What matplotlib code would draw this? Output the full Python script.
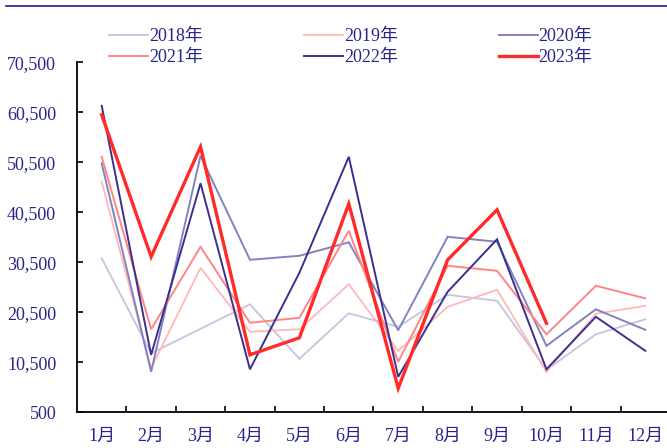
import numpy as np
import matplotlib.pyplot as plt
from matplotlib.lines import Line2D

plt.rcParams['font.family'] = ['Liberation Serif', 'Noto Sans CJK SC']

# Monthly values
months = ['1月', '2月', '3月', '4月', '5月', '6月', '7月', '8月', '9月', '10月', '11月', '12月']
y2018 = [31300, 12300, 17200, 22100, 11200, 20300, 17600, 24000, 22800, 9000, 16100, 19100]
y2019 = [46600, 9300, 29400, 16600, 17100, 26100, 12800, 21600, 25000, 8600, 20200, 21800]
y2020 = [50300, 8600, 51800, 31000, 31800, 34500, 16900, 35600, 34600, 13800, 21100, 17000]
y2021 = [51600, 17100, 33600, 18400, 19400, 36800, 10600, 29800, 28800, 16100, 25800, 23300]
y2022 = [61800, 12000, 46300, 9100, 28400, 51600, 7600, 24600, 35100, 9100, 19600, 12800]
y2023 = [60000, 31600, 53600, 12000, 15400, 42200, 5300, 31000, 41000, 18300]

yticks = [500, 10500, 20500, 30500, 40500, 50500, 60500, 70500]

series = [
    ('2018年', y2018, '#c3c3e3', 1.3),
    ('2019年', y2019, '#ffb8b8', 1.3),
    ('2020年', y2020, '#8282c2', 1.4),
    ('2021年', y2021, '#ff8585', 1.4),
    ('2022年', y2022, '#3b2f8f', 1.4),
    ('2023年', y2023, '#ff2a2a', 2.4),
]

txt = '#25258a'

fig = plt.figure(figsize=(6.67, 4.48), dpi=100)
ax = fig.add_axes([77 / 667, 35.7 / 448, 593 / 667, 350 / 448])

for name, vals, col, lw in series:
    ax.plot(np.arange(len(vals)), vals, color=col, lw=lw, label=name, solid_joinstyle='miter')

ax.set_xlim(-0.5, 11.5)
ax.set_ylim(500, 70500)
ax.set_yticks(yticks)
ax.set_yticklabels([f'{v:,}' for v in yticks])
ax.set_xticks(np.arange(12))
ax.set_xticklabels(months)
ax.set_xticks(np.arange(0.5, 11.5, 1), minor=True)

for s in ['top', 'right']:
    ax.spines[s].set_visible(False)
for s in ['left', 'bottom']:
    ax.spines[s].set_linewidth(1.3)

ax.tick_params(axis='y', direction='in', length=4, width=1.2, pad=15, labelsize=13, labelcolor=txt)
ax.tick_params(axis='x', which='major', length=0, pad=11, labelsize=13, labelcolor=txt)
ax.tick_params(axis='x', which='minor', direction='in', length=4, width=1.2)

# legend in 3 columns, 2 rows
handles = [Line2D([0], [0], color=c, lw=lw) for _, _, c, lw in series]
labels = [n for n, _, _, _ in series]
order = [0, 3, 1, 4, 2, 5]
leg = fig.legend([handles[i] for i in order], [labels[i] for i in order], ncol=3,
                 loc='upper left', bbox_to_anchor=(93 / 667, 1 - 12 / 448),
                 frameon=False, fontsize=13, handlelength=2.15, handletextpad=0.05,
                 columnspacing=5.6, labelspacing=0.22)
for t in leg.get_texts():
    t.set_color(txt)

# header rule at the top
fig.add_artist(Line2D([6 / 667, 1], [1 - 6.5 / 448, 1 - 6.5 / 448], color='#1c1c8c', lw=1.2))

fig.savefig('out.png', dpi=100)
